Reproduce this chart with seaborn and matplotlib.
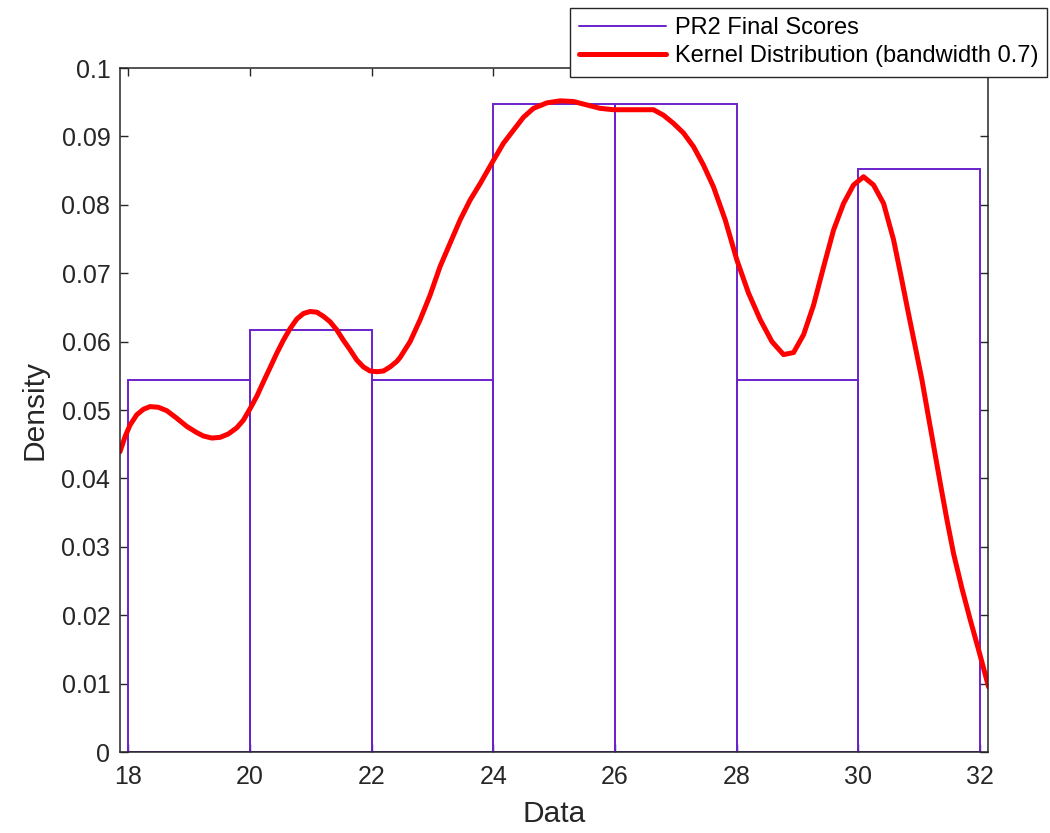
import matplotlib
matplotlib.use('Agg')
import numpy as np
import matplotlib.pyplot as plt
import seaborn as sns
from matplotlib.lines import Line2D
from matplotlib.legend_handler import HandlerLine2D

# ---------------- data ----------------
bin_edges = [18, 20, 22, 24, 26, 28, 30, 32]
bin_density = [0.0544, 0.0617, 0.0544, 0.0947, 0.0947, 0.0544, 0.0853]

kde_x = [17.863, 17.946, 18.028, 18.138, 18.247, 18.357, 18.493, 18.632, 18.796, 18.961,
         19.125, 19.234, 19.372, 19.508, 19.645, 19.783, 19.891, 20.002, 20.112, 20.220,
         20.331, 20.441, 20.549, 20.660, 20.770, 20.878, 20.988, 21.099, 21.207, 21.317,
         21.428, 21.536, 21.646, 21.757, 21.865, 21.975, 22.086, 22.194, 22.304, 22.414,
         22.470, 22.633, 22.798, 22.962, 23.127, 23.291, 23.456, 23.620, 23.785, 24.003,
         24.168, 24.332, 24.497, 24.661, 24.881, 25.100, 25.319, 25.539, 25.758, 25.977,
         26.197, 26.416, 26.635, 26.799, 26.964, 27.128, 27.293, 27.457, 27.622, 27.814,
         28.007, 28.197, 28.390, 28.582, 28.773, 28.938, 29.102, 29.266, 29.431, 29.595,
         29.760, 29.924, 30.089, 30.253, 30.418, 30.582, 30.700, 30.816, 30.933, 31.049,
         31.150, 31.252, 31.356, 31.461, 31.569, 31.707, 31.844, 31.997, 32.145]
kde_y = [0.0439, 0.0461, 0.0478, 0.0493, 0.0501, 0.0505, 0.0504, 0.0499, 0.0488, 0.0476,
         0.0467, 0.0462, 0.0459, 0.0460, 0.0465, 0.0474, 0.0485, 0.0502, 0.0520, 0.0541,
         0.0562, 0.0583, 0.0602, 0.0619, 0.0633, 0.0641, 0.0644, 0.0643, 0.0637, 0.0629,
         0.0617, 0.0602, 0.0588, 0.0573, 0.0563, 0.0557, 0.0556, 0.0557, 0.0563, 0.0571,
         0.0577, 0.0600, 0.0632, 0.0668, 0.0710, 0.0744, 0.0778, 0.0807, 0.0831, 0.0865,
         0.0890, 0.0909, 0.0928, 0.0941, 0.0949, 0.0952, 0.0951, 0.0946, 0.0941, 0.0939,
         0.0939, 0.0939, 0.0939, 0.0931, 0.0919, 0.0905, 0.0885, 0.0858, 0.0826, 0.0778,
         0.0719, 0.0671, 0.0632, 0.0600, 0.0581, 0.0584, 0.0610, 0.0653, 0.0709, 0.0763,
         0.0802, 0.0829, 0.0841, 0.0829, 0.0802, 0.0749, 0.0698, 0.0646, 0.0595, 0.0544,
         0.0493, 0.0442, 0.0390, 0.0339, 0.0290, 0.0239, 0.0193, 0.0144, 0.0095]

x_ticks = [18, 20, 22, 24, 26, 28, 30, 32]
y_ticks = [0, 0.01, 0.02, 0.03, 0.04, 0.05, 0.06, 0.07, 0.08, 0.09, 0.1]
y_tick_labels = ['0', '0.01', '0.02', '0.03', '0.04', '0.05', '0.06', '0.07', '0.08', '0.09', '0.1']

hist_label = 'PR2 Final Scores'
kde_label = 'Kernel Distribution (bandwidth 0.7)'

# ---------------- style ----------------
sns.set_style('white')
plt.rcParams['font.family'] = ['Liberation Sans', 'DejaVu Sans']

HIST_COLOR = '#6a22cc'
AX_COLOR = '#262626'

fig = plt.figure(figsize=(10.5, 8.33), dpi=100)
ax = fig.add_axes([120 / 1050, 1 - 752 / 833, (988 - 120) / 1050, (752 - 68) / 833])

bin_centers = [(a + b) / 2 for a, b in zip(bin_edges[:-1], bin_edges[1:])]
sns.histplot(x=bin_centers, weights=bin_density, bins=bin_edges, stat='count',
             element='bars', fill=False, color=HIST_COLOR, linewidth=1.4, ax=ax)
sns.lineplot(x=kde_x, y=kde_y, color='red', linewidth=3.6, sort=False, ax=ax,
             estimator=None)

ax.set_xlim(17.863, 32.135)
ax.set_ylim(0, 0.1)
ax.set_xticks(x_ticks)
ax.set_xticklabels([str(t) for t in x_ticks])
ax.set_yticks(y_ticks)
ax.set_yticklabels(y_tick_labels)

ax.tick_params(axis='both', which='both', direction='in', length=6, width=1.0,
               colors=AX_COLOR, labelsize=18, top=True, right=True,
               bottom=True, left=True)
ax.tick_params(axis='x', pad=9)
ax.tick_params(axis='y', pad=7)
for sp in ax.spines.values():
    sp.set_visible(True)
    sp.set_color(AX_COLOR)
    sp.set_linewidth(1.1)

ax.set_xlabel('Data', fontsize=21.5, color=AX_COLOR, labelpad=8)
ax.set_ylabel('Density', fontsize=21.5, color=AX_COLOR, labelpad=9)


class OffsetLineHandler(HandlerLine2D):
    def __init__(self, offset, **kw):
        super().__init__(**kw)
        self.offset = offset

    def create_artists(self, legend, orig_handle, xdescent, ydescent, width,
                       height, fontsize, trans):
        arts = super().create_artists(legend, orig_handle, xdescent, ydescent,
                                      width, height, fontsize, trans)
        for a in arts:
            xd = np.asarray(a.get_xdata(), float)
            if len(xd) == 2:
                a.set_xdata([xd[0] + self.offset, xd[1]])
        return arts


handles = [Line2D([], [], color=HIST_COLOR, linewidth=1.4),
           Line2D([], [], color='red', linewidth=3.6)]
hmap = {h: OffsetLineHandler(5.0) for h in handles}
leg = ax.legend(handles, [hist_label, kde_label],
                handler_map=hmap,
                loc='upper left',
                bbox_to_anchor=(570 / 1050, 1 - 76 / 833, 477 / 1050, 68 / 833),
                bbox_transform=fig.transFigure, mode='expand', borderaxespad=0,
                fontsize=17, frameon=True, fancybox=False, framealpha=1,
                handlelength=3.69, handletextpad=0.38, labelspacing=0.26,
                borderpad=0.39)
leg.get_frame().set_edgecolor(AX_COLOR)
leg.get_frame().set_linewidth(1.0)
for t in leg.get_texts():
    t.set_color('#000000')

fig.savefig('out.png', dpi=100)
